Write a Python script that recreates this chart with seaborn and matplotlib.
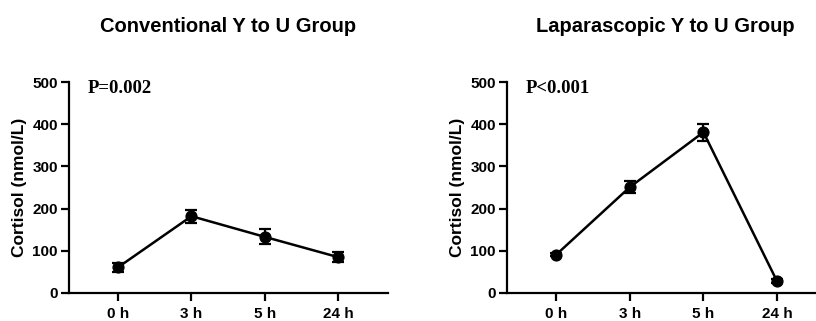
import numpy as np
import pandas as pd
import matplotlib
matplotlib.use("Agg")
import matplotlib.pyplot as plt
import seaborn as sns

# Cortisol levels at each time point (mean and error)
time_labels = ["0 h", "3 h", "5 h", "24 h"]
conv_mean = [61, 182, 133, 85]
conv_err = [11, 15, 18, 12]
lap_mean = [91, 251, 381, 28]
lap_err = [4, 14, 20, 4]
titles = ["Conventional Y to U Group", "Laparascopic Y to U Group"]
p_texts = ["P=0.002", "P<0.001"]

sns.set_style("ticks")
plt.rcParams["font.family"] = ["Liberation Sans", "DejaVu Sans"]
plt.rcParams["font.weight"] = "bold"
plt.rcParams["text.color"] = "black"
plt.rcParams["axes.labelcolor"] = "black"
plt.rcParams["xtick.color"] = "black"
plt.rcParams["ytick.color"] = "black"

fig = plt.figure(figsize=(8.16, 3.21), dpi=100)
ax1 = fig.add_axes([69 / 816, 28 / 321, 319 / 816, 211 / 321])
ax2 = fig.add_axes([507 / 816, 28 / 321, 309 / 816, 211 / 321])


def draw_panel(ax, mean, err, title, ptxt, xmax, title_x):
    df = pd.DataFrame({"t": np.arange(len(time_labels)), "cortisol": mean})
    ax.errorbar(df["t"], df["cortisol"], yerr=err, fmt="none", ecolor="black",
                elinewidth=1.6, capsize=4, capthick=1.6, zorder=2)
    sns.lineplot(data=df, x="t", y="cortisol", ax=ax, color="black", linewidth=1.8,
                 marker="o", markersize=8, markeredgecolor="black", zorder=3)
    ax.set_xlim(-0.67, xmax)
    ax.set_ylim(0, 500)
    ax.set_xticks(df["t"])
    ax.set_xticklabels(time_labels)
    ax.set_yticks([0, 100, 200, 300, 400, 500])
    ax.set_xlabel("")
    ax.set_ylabel("Cortisol (nmol/L)", fontsize=12.5, fontweight="bold", labelpad=4)
    ax.tick_params(axis="both", labelsize=11, width=1.6, length=6, color="black")
    ax.tick_params(axis="x", pad=4)
    ax.tick_params(axis="y", pad=2)
    for s in ["left", "bottom"]:
        ax.spines[s].set_linewidth(1.6)
        ax.spines[s].set_color("black")
    ax.spines["top"].set_visible(False)
    ax.spines["right"].set_visible(False)
    ax.text(0.06, 0.97, ptxt, transform=ax.transAxes, fontsize=13.5, fontweight="bold",
            family=["Liberation Serif", "DejaVu Serif"], va="center", ha="left")
    fig.text(title_x, 1 - 27 / 321, title, fontsize=14.5, fontweight="bold",
             ha="center", va="center")


draw_panel(ax1, conv_mean, conv_err, titles[0], p_texts[0], 3.68, 228 / 816)
draw_panel(ax2, lap_mean, lap_err, titles[1], p_texts[1], 3.53, 665 / 816)

fig.savefig("out.png", dpi=100)
